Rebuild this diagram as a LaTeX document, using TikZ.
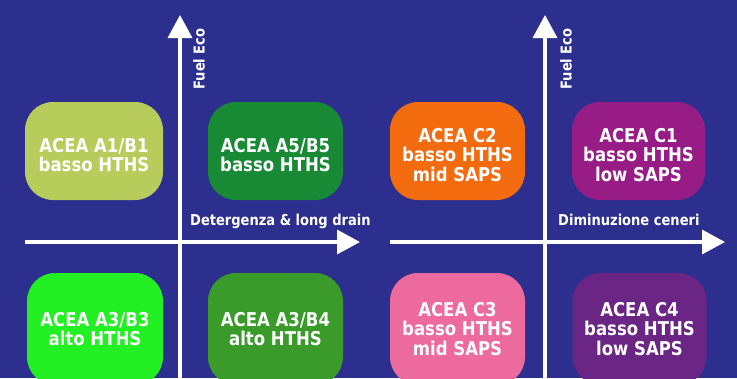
\documentclass[tikz,border=0pt]{standalone}
\usepackage{fontspec}
\usetikzlibrary{arrows.meta}
\newfontfamily\labfont[FakeStretch=0.87]{DejaVu Sans Bold}
\definecolor{bgblue}{HTML}{2C2F8E}
\definecolor{cAone}{HTML}{B7CC5A}
\definecolor{cAfive}{HTML}{188A36}
\definecolor{cAthree}{HTML}{22F022}
\definecolor{cAfour}{HTML}{3A9A2A}
\definecolor{cCtwo}{HTML}{F26B0F}
\definecolor{cCone}{HTML}{981C86}
\definecolor{cCthree}{HTML}{EC6A9E}
\definecolor{cCfour}{HTML}{6A2585}
\tikzset{
  quad/.style={rounded corners=28pt, inner sep=0pt, align=center, text=white,
    font=\labfont\fontsize{19}{19.5}\selectfont},
  topquad/.style={quad, minimum height=98pt},
  botquad/.style={quad, minimum height=112pt},
  boxtext/.style={align=center, text=white, inner sep=0pt, yshift=-4pt,
    font=\labfont\fontsize{19}{19.5}\selectfont},
  axisline/.style={draw=white, line width=3.5pt, -{Triangle[width=24pt,length=23pt]}},
  axislabel/.style={text=white, inner sep=0pt, font=\labfont\fontsize{15}{15}\selectfont}
}
\begin{document}
\begin{tikzpicture}[x=1pt,y=-1pt]
\fill[bgblue] (0,0) rectangle (737,378);
\useasboundingbox (0,0) rectangle (737,378);
\clip (0,0) rectangle (737,378);
% boxes
\node[topquad, fill=cAone, minimum width=138pt, label={[boxtext]center:{ACEA A1/B1\\basso HTHS}}] (a1) at (94,151) {};
\node[topquad, fill=cAfive, minimum width=135pt, label={[boxtext]center:{ACEA A5/B5\\basso HTHS}}] (a5) at (275.5,151) {};
\node[botquad, fill=cAthree, minimum width=136pt] (a3) at (95,329) {ACEA A3/B3\\alto HTHS};
\node[botquad, fill=cAfour, minimum width=135pt] (a4) at (275.5,329) {ACEA A3/B4\\alto HTHS};
\node[topquad, fill=cCtwo, minimum width=135pt, label={[boxtext]center:{ACEA C2\\basso HTHS\\mid SAPS}}] (c2) at (457.5,151) {};
\node[topquad, fill=cCone, minimum width=133pt, label={[boxtext]center:{ACEA C1\\basso HTHS\\low SAPS}}] (c1) at (638.5,151) {};
\node[botquad, fill=cCthree, minimum width=135pt] (c3) at (457.5,329) {ACEA C3\\basso HTHS\\mid SAPS};
\node[botquad, fill=cCfour, minimum width=134pt] (c4) at (639.5,329) {ACEA C4\\basso HTHS\\low SAPS};
% axes, left panel
\coordinate (lbot) at (180,380);
\coordinate (ltop) at (180,15);
\coordinate (lleft) at (25,242);
\coordinate (lright) at (360,242);
\draw[axisline] (lbot) -- (ltop);
\draw[axisline] (lleft) -- (lright);
% axes, right panel
\coordinate (rbot) at (545,380);
\coordinate (rtop) at (545,15);
\coordinate (rleft) at (390,242);
\coordinate (rright) at (725,242);
\draw[axisline] (rbot) -- (rtop);
\draw[axisline] (rleft) -- (rright);
% labels
\node[axislabel, rotate=90] (fl) at (199,59) {Fuel Eco};
\node[axislabel, rotate=90] (fr) at (566,59) {Fuel Eco};
\node[axislabel, anchor=base west] (det) at (190,225) {Detergenza \& long drain};
\node[axislabel, anchor=base west] (dim) at (558,225) {Diminuzione ceneri};
\end{tikzpicture}
\end{document}
